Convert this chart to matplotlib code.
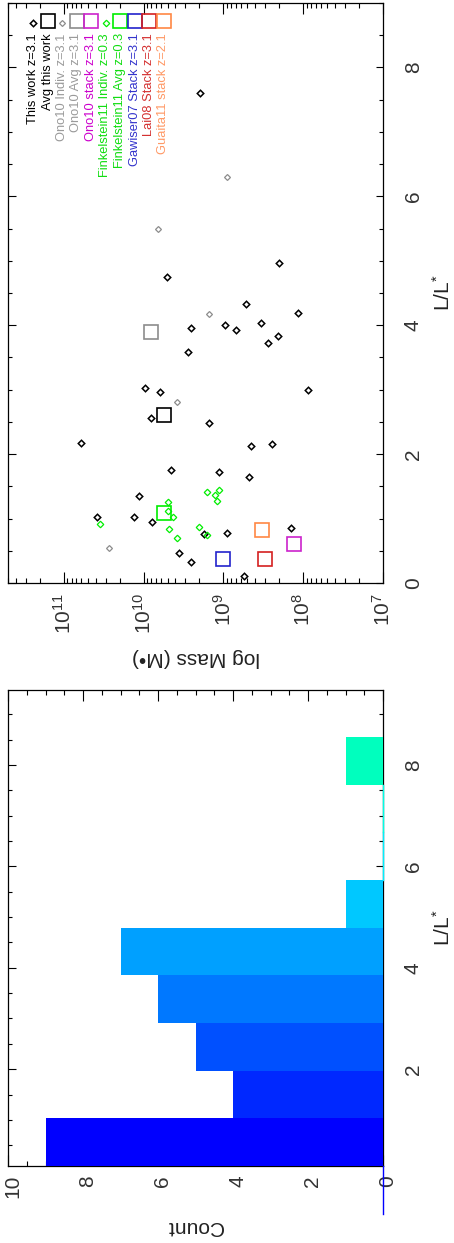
import matplotlib
matplotlib.use("Agg")
import matplotlib.pyplot as plt
import matplotlib.transforms as mtransforms
import numpy as np
from matplotlib.ticker import MultipleLocator, LogLocator, LogFormatterSciNotation, NullFormatter

plt.rcParams['font.family'] = ['Liberation Sans', 'DejaVu Sans']
plt.rcParams['mathtext.fontset'] = 'custom'
plt.rcParams['mathtext.rm'] = 'Liberation Sans'
plt.rcParams['mathtext.it'] = 'Liberation Sans:italic'
plt.rcParams['mathtext.bf'] = 'Liberation Sans:bold'

# ---- scatter data: L/L* and log10(M / Msun)
work_lum = [7.60, 4.96, 4.75, 4.33, 4.19, 4.03, 4.00, 3.95, 3.93, 3.83, 3.73,
            3.59, 3.02, 2.97, 2.99, 2.56, 2.49, 2.18, 2.13, 2.16, 1.75, 1.72,
            1.65, 1.35, 1.03, 1.03, 0.95, 0.78, 0.85, 0.76, 0.46, 0.33, 0.11]
work_logm = [9.29, 8.30, 9.71, 8.72, 8.06, 8.53, 8.98, 9.41, 8.84, 8.31, 8.44,
             9.44, 9.98, 9.79, 7.94, 9.91, 9.18, 10.78, 8.65, 8.39, 9.66, 9.06,
             8.68, 10.06, 10.58, 10.12, 9.89, 8.95, 8.15, 9.24, 9.55, 9.41, 8.74]

ono_lum = [6.30, 5.49, 4.17, 2.81, 0.54]
ono_logm = [8.96, 9.82, 9.18, 9.58, 10.43]

fink_lum = [0.91, 1.25, 1.11, 1.02, 0.84, 0.70, 0.87, 0.75, 1.41, 1.44, 1.37, 1.27]
fink_logm = [10.54, 9.69, 9.69, 9.63, 9.68, 9.58, 9.30, 9.21, 9.21, 9.05, 9.11, 9.08]

# averages / stacks
avg_names = ["Avg this work", "Ono10 Avg z=3.1", "Ono10 stack z=3.1",
             "Finkelstein11 Avg z=0.3", "Gawiser07 Stack z=3.1",
             "Lai08 Stack z=3.1", "Guaita11 stack z=2.1"]
avg_lum = [2.60, 3.90, 0.60, 1.08, 0.38, 0.38, 0.82]
avg_logm = [9.75, 9.91, 8.12, 9.74, 9.00, 8.48, 8.51]

# ---- histogram of L/L*
hist_edges = [-0.85, 0.09, 1.03, 1.97, 2.91, 3.85, 4.79, 5.73, 6.67, 7.61, 8.55]
hist_counts = [0, 9, 4, 5, 6, 7, 1, 0, 0, 1]
hist_colors = ["#0000ff", "#0000ff", "#0028ff", "#0050ff", "#0078ff", "#00a0ff",
               "#00c8ff", "#00f0ff", "#00ffe6", "#00ffbe"]

# styles
avg_colors = ["black", "#8c8c8c", "#cc22cc", "#00ee00", "#2222cc", "#d42020", "#ff8844"]
GRAY = "#8c8c8c"
GREEN = "#00ee00"
TXT = "#333333"

W, H = 454, 1243
fig = plt.figure(figsize=(W / 100, H / 100), dpi=100)
ax_s = fig.add_axes([8 / W, 1 - 583 / H, 375 / W, 580 / H])
ax_h = fig.add_axes([8 / W, 1 - 1166 / H, 375 / W, 476 / H])

# ---------------- scatter panel (mass runs leftwards, L/L* upwards)
ax_s.set_xscale('log')
ax_s.plot(10 ** np.array(work_logm), work_lum, 'D', ms=3.3, mfc='none', mec='black', mew=1.1)
ax_s.plot(10 ** np.array(ono_logm), ono_lum, 'D', ms=3.0, mfc='none', mec=GRAY, mew=0.9)
ax_s.plot(10 ** np.array(fink_logm), fink_lum, 'D', ms=3.3, mfc='none', mec=GREEN, mew=0.9)
for lm, lum, c in zip(avg_logm, avg_lum, avg_colors):
    ax_s.plot(10 ** lm, lum, 's', ms=9.8, mfc='none', mec=c, mew=1.2)

ax_s.set_xlim(5e11, 1e7)
ax_s.set_ylim(0, 9)
ax_s.xaxis.set_major_locator(LogLocator(base=10, numticks=10))
ax_s.xaxis.set_minor_locator(LogLocator(base=10, subs=np.arange(2, 10), numticks=20))
ax_s.xaxis.set_major_formatter(LogFormatterSciNotation())
ax_s.xaxis.set_minor_formatter(NullFormatter())
ax_s.yaxis.set_major_locator(MultipleLocator(2))
ax_s.yaxis.set_minor_locator(MultipleLocator(0.5))

# legend drawn as rotated columns
leg_labels = ["This work z=3.1", "Avg this work", "Ono10 Indiv. z=3.1", "Ono10 Avg z=3.1",
              "Ono10 stack z=3.1", "Finkelstein11 Indiv. z=0.3", "Finkelstein11 Avg z=0.3",
              "Gawiser07 Stack z=3.1", "Lai08 Stack z=3.1", "Guaita11 stack z=2.1"]
leg_text_colors = ["black", "black", "#9a9a9a", "#9a9a9a", "#cc00cc", "#11dd11", "#11dd11",
                   "#3333cc", "#d43030", "#ff9966"]
leg_markers = ['D', 's', 'D', 's', 's', 'D', 's', 's', 's', 's']
leg_marker_colors = ["black", "black", GRAY, GRAY, "#cc22cc", GREEN, GREEN,
                     "#2222cc", "#d42020", "#ff8844"]
x0, dx = 25 / 375, 14.5 / 375
for i, (lab, tc, mk, mc) in enumerate(zip(leg_labels, leg_text_colors, leg_markers, leg_marker_colors)):
    xx = x0 + i * dx
    if mk == 'D':
        ax_s.plot(xx, 0.9655, 'D', ms=3.3 if mc != GRAY else 3.0, mfc='none', mec=mc,
                  mew=1.1 if mc == "black" else 0.9, transform=ax_s.transAxes, clip_on=False)
    else:
        ax_s.plot(xx, 0.9685, 's', ms=9.8, mfc='none', mec=mc, mew=1.2,
                  transform=ax_s.transAxes, clip_on=False)
    ax_s.text(xx, 0.948, lab, rotation=90, ha='center', va='top', fontsize=9.3,
              color=tc, transform=ax_s.transAxes)

# ---------------- histogram panel (count runs leftwards)
for lo, hi, n, c in zip(hist_edges[:-1], hist_edges[1:], hist_counts, hist_colors):
    if n > 0:
        ax_h.barh(lo, n, height=hi - lo, align='edge', color=c, linewidth=0, zorder=3)
    else:
        ax_h.plot([0, 0], [lo, hi], color=c, lw=1.0, zorder=3, clip_on=False)

ax_h.set_xlim(10, 0)
ax_h.set_ylim(0.09, 9.48)
ax_h.xaxis.set_major_locator(MultipleLocator(2))
ax_h.xaxis.set_minor_locator(MultipleLocator(0.5))
ax_h.yaxis.set_major_locator(MultipleLocator(2))
ax_h.yaxis.set_minor_locator(MultipleLocator(0.5))

# ---------------- shared axis styling
for ax, xpad in ((ax_s, 7), (ax_h, 6.5)):
    for sp in ax.spines.values():
        sp.set_linewidth(0.9)
    ax.tick_params(axis='x', which='both', direction='in', top=True, bottom=True,
                   width=0.8, labelsize=15, labelcolor=TXT, pad=xpad, labelrotation=90)
    ax.tick_params(axis='x', which='major', length=7.8)
    ax.tick_params(axis='x', which='minor', length=3.8)
    ax.tick_params(axis='y', which='both', direction='in', left=True, right=True,
                   labelleft=False, labelright=True, width=0.8, labelsize=15,
                   labelcolor=TXT, pad=15, labelrotation=90)
    ax.tick_params(axis='y', which='major', length=5.4)
    ax.tick_params(axis='y', which='minor', length=2.7)
    for t in ax.get_yticklabels():
        t.set_verticalalignment('center')
    ax.text(1.16, 0.5, "L/L$^{*}$", rotation=90, ha='center', va='center',
            fontsize=15, color='#222222', transform=ax.transAxes)

# count labels sit a little to the right of their ticks, as in the original
shift = mtransforms.ScaledTranslation(4.5 / 100, 0, fig.dpi_scale_trans)
for t in ax_h.get_xticklabels():
    t.set_transform(t.get_transform() + shift)

ax_s.text(0.5, -0.112, "log Mass (M\u2022)", rotation=180, ha='center', va='top',
          fontsize=15, color='#222222', transform=ax_s.transAxes)
ax_h.text(0.5, -0.107, "Count", rotation=180, ha='center', va='top',
          fontsize=15, color='#222222', transform=ax_h.transAxes)

fig.savefig("out.png", dpi=100, facecolor="white")
